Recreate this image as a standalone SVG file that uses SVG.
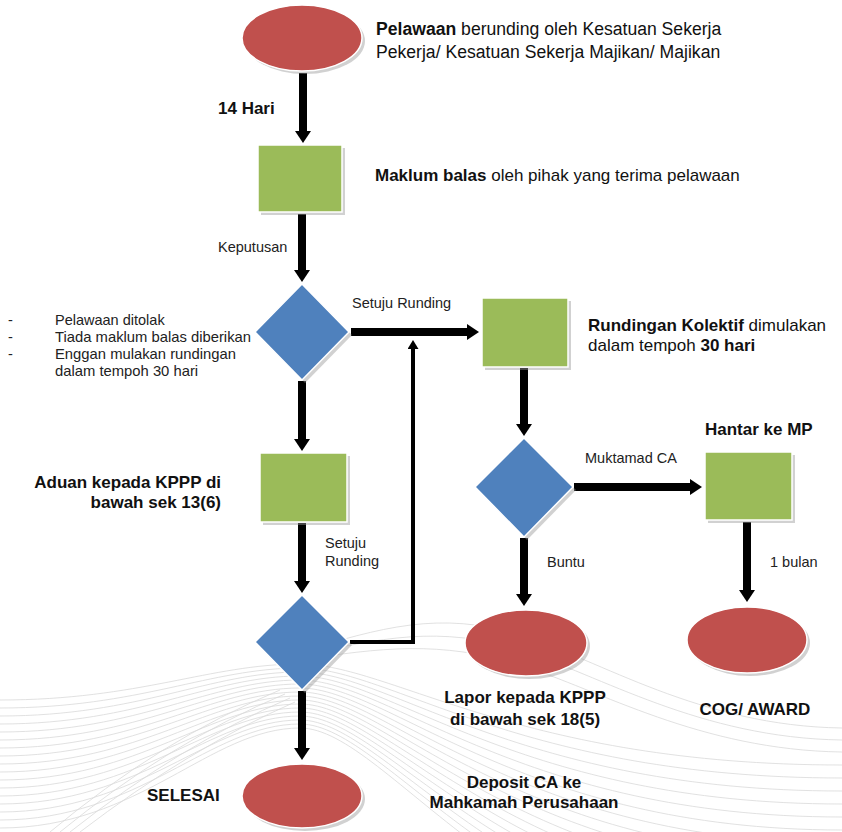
<svg xmlns="http://www.w3.org/2000/svg" width="842" height="832" viewBox="0 0 842 832">
<style>
text{font-family:"Liberation Sans",Arial,sans-serif;fill:#111}
.t{font-size:17px}
.t2{font-size:17.6px}
.b{font-size:17px;font-weight:bold}
.s{font-size:14.5px;fill:#222}
.el{fill:#C0504D;stroke:#fff;stroke-width:1.5}
.rc{fill:#9BBB59;stroke:#fff;stroke-width:1.5}
.dm{fill:#4F81BD;stroke:#fff;stroke-width:1.5}
.sh{fill:#9a9a9a;opacity:.45}
.wave{fill:none;stroke:#d9d9d9;stroke-width:.8}
.thick{stroke:#000;stroke-width:8;fill:none}
.thin{stroke:#000;stroke-width:4;fill:none}
</style>
<defs>
<marker id="ah" viewBox="0 0 12 16" markerWidth="12" markerHeight="16" refX="0" refY="8" orient="auto" markerUnits="userSpaceOnUse"><path d="M0,0 L12,8 L0,16 z" fill="#000"/></marker>
<marker id="ahs" viewBox="0 0 9 11" markerWidth="9" markerHeight="11" refX="0" refY="5.5" orient="auto" markerUnits="userSpaceOnUse"><path d="M0,0 L9,5.5 L0,11 z" fill="#000"/></marker>
</defs>
<rect width="842" height="832" fill="#fff"/>
<g id="background">
<path class="wave" d="M0,700 C140,700 210,664 300,664 S520,765 842,765"/>
<path class="wave" d="M0,708 C140,708 210,668 300,668 S520,778 842,778"/>
<path class="wave" d="M0,716 C140,716 210,672 300,672 S520,791 842,791"/>
<path class="wave" d="M0,724 C140,724 210,676 300,676 S520,804 842,804"/>
<path class="wave" d="M0,732 C140,732 210,680 300,680 S520,817 842,817"/>
<path class="wave" d="M0,740 C140,740 210,684 300,684 S520,830 842,830"/>
<path class="wave" d="M0,748 C140,748 210,688 300,688 S520,843 842,843"/>
<path class="wave" d="M0,756 C140,756 210,692 300,692 S520,856 842,856"/>
<path class="wave" d="M0,764 C140,764 210,696 300,696 S520,869 842,869"/>
<path class="wave" d="M0,772 C140,772 210,700 300,700 S520,882 842,882"/>
<path class="wave" d="M0,780 C140,780 210,704 300,704 S520,895 842,895"/>
<path class="wave" d="M0,788 C140,788 210,708 300,708 S520,908 842,908"/>
<path class="wave" d="M0,796 C140,796 210,712 300,712 S520,921 842,921"/>
<path class="wave" d="M0,804 C140,804 210,716 300,716 S520,934 842,934"/>
<path class="wave" d="M0,812 C140,812 210,720 300,720 S520,947 842,947"/>
<path class="wave" d="M0,820 C140,820 210,724 300,724 S520,960 842,960"/>
<path class="wave" d="M0,828 C140,828 210,728 300,728 S520,973 842,973"/>
<path class="wave" d="M300,660 C380,648 440,640 520,665 S700,750 842,752"/>
<path class="wave" d="M300,656 C380,638 440,625 520,650 S700,738 842,740"/>
<path class="wave" d="M300,652 C380,628 440,610 520,635 S700,726 842,728"/>
<path class="wave" d="M50,832 Q160,740 280,690"/>
<path class="wave" d="M60,832 Q170,742 285,694"/>
<path class="wave" d="M70,832 Q180,745 290,698"/>
<path class="wave" d="M80,832 Q190,748 295,702"/>
</g>
<g id="connectors">
<line class="thick" x1="303" y1="73" x2="303" y2="131" marker-end="url(#ah)"/>
<line class="thick" x1="302" y1="214" x2="302" y2="270" marker-end="url(#ah)"/>
<line class="thick" x1="351" y1="332" x2="467" y2="332" marker-end="url(#ah)"/>
<line class="thick" x1="302" y1="381" x2="302" y2="439" marker-end="url(#ah)"/>
<line class="thick" x1="302" y1="523" x2="302" y2="581" marker-end="url(#ah)"/>
<line class="thick" x1="302" y1="691" x2="302" y2="748" marker-end="url(#ah)"/>
<polyline class="thin" points="350,642 413,642 413,349" marker-end="url(#ahs)"/>
<line class="thick" x1="524" y1="368" x2="524" y2="424" marker-end="url(#ah)"/>
<line class="thick" x1="574" y1="487" x2="690" y2="487" marker-end="url(#ah)"/>
<line class="thick" x1="524" y1="538" x2="524" y2="594" marker-end="url(#ah)"/>
<line class="thick" x1="747" y1="522" x2="747" y2="590" marker-end="url(#ah)"/>
</g>
<g id="n-pelawaan">
<ellipse class="sh" cx="305" cy="41" rx="60" ry="33"/>
<ellipse class="el" cx="302" cy="38" rx="60" ry="33"/>
<text class="t2" x="376" y="35"><tspan font-weight="bold">Pelawaan</tspan> berunding oleh Kesatuan Sekerja</text>
<text class="t2" x="376" y="57.5">Pekerja/ Kesatuan Sekerja Majikan/ Majikan</text>
</g>
<g id="n-maklum">
<rect class="sh" x="261" y="148" width="84" height="67"/>
<rect class="rc" x="258" y="145" width="84" height="67"/>
<text class="t" x="375" y="181"><tspan font-weight="bold">Maklum balas</tspan> oleh pihak yang terima pelawaan</text>
</g>
<g id="n-keputusan">
<polygon class="sh" points="305,287 352,335 305,383 258,335"/>
<polygon class="dm" points="302,284 349,332 302,380 255,332"/>
</g>
<g id="n-rundingan">
<rect class="sh" x="485" y="301" width="86" height="69"/>
<rect class="rc" x="482" y="298" width="86" height="69"/>
<text class="t" x="588" y="331"><tspan font-weight="bold">Rundingan Kolektif</tspan> dimulakan</text>
<text class="t" x="588" y="351">dalam tempoh <tspan font-weight="bold">30 hari</tspan></text>
</g>
<g id="n-aduan">
<rect class="sh" x="263" y="456" width="87" height="69"/>
<rect class="rc" x="260" y="453" width="87" height="69"/>
<text class="b" x="221" y="488" text-anchor="end">Aduan kepada KPPP di</text>
<text class="b" x="221" y="508" text-anchor="end">bawah sek 13(6)</text>
</g>
<g id="n-setuju2">
<polygon class="sh" points="305,598 352,645 305,693 258,645"/>
<polygon class="dm" points="302,595 349,642 302,690 255,642"/>
</g>
<g id="n-selesai">
<ellipse class="sh" cx="305" cy="799" rx="60" ry="32"/>
<ellipse class="el" cx="302" cy="796" rx="60" ry="32"/>
<text class="b" x="147" y="801">SELESAI</text>
</g>
<g id="n-muktamad">
<polygon class="sh" points="527,441 576,490 527,540 478,490"/>
<polygon class="dm" points="524,438 573,487 524,537 475,487"/>
</g>
<g id="n-hantar">
<rect class="sh" x="708" y="455" width="87" height="68"/>
<rect class="rc" x="705" y="452" width="87" height="68"/>
<text class="b" x="705" y="435">Hantar ke MP</text>
</g>
<g id="n-lapor">
<ellipse class="sh" cx="529" cy="646" rx="61" ry="33"/>
<ellipse class="el" cx="526" cy="643" rx="61" ry="33"/>
<text class="b" x="525" y="703" text-anchor="middle">Lapor kepada KPPP</text>
<text class="b" x="525" y="725" text-anchor="middle">di bawah sek 18(5)</text>
</g>
<g id="n-cog">
<ellipse class="sh" cx="750" cy="643" rx="60" ry="33"/>
<ellipse class="el" cx="747" cy="640" rx="60" ry="33"/>
<text class="b" x="755" y="715" text-anchor="middle">COG/ AWARD</text>
</g>
<g id="n-deposit">
<text class="b" x="524" y="788" text-anchor="middle">Deposit CA ke</text>
<text class="b" x="524" y="808" text-anchor="middle">Mahkamah Perusahaan</text>
</g>
<g id="labels">
<text class="b" x="218" y="114">14 Hari</text>
<text class="s" x="218" y="252">Keputusan</text>
<text class="s" x="352" y="308">Setuju Runding</text>
<text class="s" x="325" y="548">Setuju</text>
<text class="s" x="325" y="566">Runding</text>
<text class="s" x="585" y="463">Muktamad CA</text>
<text class="s" x="547" y="567">Buntu</text>
<text class="s" x="770" y="567">1 bulan</text>
<text class="s" x="8" y="325">-</text>
<text class="s" x="55" y="325">Pelawaan ditolak</text>
<text class="s" x="8" y="342">-</text>
<text class="s" x="55" y="342" style="font-size:14.8px">Tiada maklum balas diberikan</text>
<text class="s" x="8" y="359">-</text>
<text class="s" x="55" y="359" style="font-size:14.8px">Enggan mulakan rundingan</text>
<text class="s" x="55" y="376" style="font-size:14.8px">dalam tempoh 30 hari</text>
</g>
</svg>
